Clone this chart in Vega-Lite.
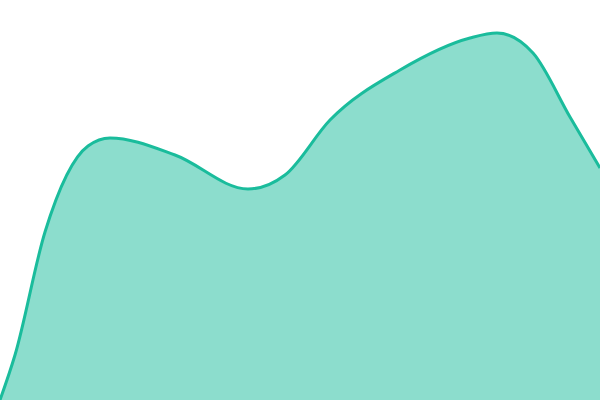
{
  "$schema": "https://vega.github.io/schema/vega-lite/v6.json",
  "width": 600,
  "height": 400,
  "autosize": {"type": "none"},
  "padding": 0,
  "data": {
    "values": [
      {"x": 0, "y": 0},
      {"x": 15, "y": 45},
      {"x": 45, "y": 168},
      {"x": 88, "y": 254},
      {"x": 110, "y": 262},
      {"x": 175, "y": 245},
      {"x": 248, "y": 211},
      {"x": 285, "y": 225},
      {"x": 330, "y": 280},
      {"x": 400, "y": 330},
      {"x": 470, "y": 362},
      {"x": 497, "y": 367},
      {"x": 533, "y": 347},
      {"x": 570, "y": 283},
      {"x": 600, "y": 232}
    ]
  },
  "mark": {
    "type": "area",
    "interpolate": "monotone",
    "color": "#1abc9c",
    "fillOpacity": 0.5,
    "line": {"color": "#1abc9c", "strokeWidth": 3}
  },
  "encoding": {
    "x": {"field": "x", "type": "quantitative", "scale": {"domain": [0, 600], "nice": false, "zero": false}, "axis": null},
    "y": {"field": "y", "type": "quantitative", "scale": {"domain": [0, 400], "nice": false}, "axis": null}
  },
  "config": {"view": {"stroke": null}}
}
